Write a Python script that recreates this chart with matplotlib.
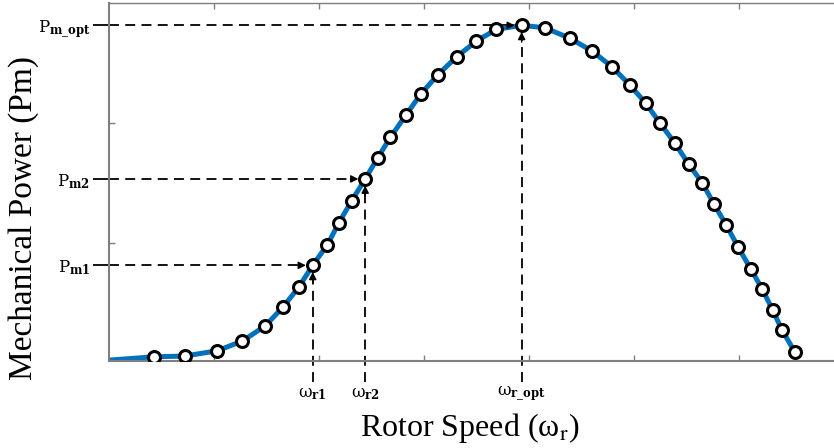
import matplotlib.pyplot as plt

plt.rcParams['mathtext.fontset'] = 'dejavuserif'

# sampled points of the power curve (speed and power in grid units)
speed = [0.43, 0.72, 1.03, 1.27, 1.49, 1.66, 1.81, 1.94, 2.08, 2.19,
         2.31, 2.44, 2.56, 2.68, 2.83, 2.97, 3.13, 3.31, 3.50, 3.69,
         3.93, 4.15, 4.39, 4.60, 4.79, 4.96, 5.11, 5.25, 5.39, 5.52,
         5.65, 5.76, 5.88, 5.99, 6.11, 6.22, 6.32, 6.41, 6.53]
power = [0.048, 0.054, 0.098, 0.179, 0.307, 0.465, 0.632, 0.81, 0.982, 1.165,
         1.346, 1.53, 1.707, 1.877, 2.065, 2.238, 2.396, 2.548, 2.679, 2.777,
         2.81, 2.79, 2.702, 2.596, 2.465, 2.313, 2.163, 1.993, 1.827, 1.654,
         1.498, 1.323, 1.143, 0.965, 0.782, 0.615, 0.438, 0.271, 0.09]

# the curve starts at the origin of the axes
curve_speed = [0.0] + speed
curve_power = [0.02] + power

# operating points marked with dashed guides
op_speed = [1.94, 2.44, 3.93]
op_power = [0.81, 1.53, 2.81]
speed_labels = [r'ω$_{\mathbf{r1}}$', r'ω$_{\mathbf{r2}}$', r'ω$_{\mathbf{r\_opt}}$']
power_labels = [r'$\mathrm{P}_{\mathbf{m1}}$', r'$\mathrm{P}_{\mathbf{m2}}$', r'$\mathrm{P}_{\mathbf{m\_opt}}$']

W, H = 834, 448
fig = plt.figure(figsize=(W / 100, H / 100), dpi=100)
ax = fig.add_axes([109 / W, 87.5 / H, 735 / W, 357 / H])

ax.plot(curve_speed, curve_power, color='#0072BD', lw=3.6, zorder=2)
ax.plot(speed, power, 'o', ms=8.6, mfc='white', mec='black', mew=2.2, zorder=3)

ax.set_xlim(0, 7)
ax.set_ylim(0.017, 2.992)

gray = '#7f7f7f'
for side in ['left', 'bottom', 'top']:
    ax.spines[side].set_color(gray)
    ax.spines[side].set_linewidth(1.5)
ax.spines['top'].set_linewidth(1.0)
ax.spines['right'].set_visible(False)

ax.set_xticks([1, 2, 3, 4, 5, 6])
ax.set_xticklabels([])
ax.tick_params(axis='x', direction='in', length=4, width=1, color=gray,
               top=True, bottom=True)

ax.set_yticks(op_power, power_labels)
ax.set_yticks([1, 2], minor=True)
ax.tick_params(axis='y', which='major', direction='out', length=11.5, width=1.3,
               color='black', labelsize=12, pad=2)
ax.tick_params(axis='y', which='minor', direction='in', length=4, width=1, color=gray)

dash = (0, (5.5, 3.5))
for xs, ys, lab in zip(op_speed, op_power, speed_labels):
    # horizontal guide from the power axis to the point
    ax.plot([0, xs - 0.12], [ys, ys], color='black', lw=1.3, ls=dash, zorder=1)
    ax.annotate('', xy=(xs - 0.065, ys), xytext=(xs - 0.14, ys),
                arrowprops=dict(arrowstyle='-|>', color='black', lw=1.0,
                                mutation_scale=11, shrinkA=0, shrinkB=0))
    # vertical guide from below the speed axis up to the point
    ax.plot([xs, xs], [-0.16, ys - 0.12], color='black', lw=1.3, ls=dash,
            zorder=1, clip_on=False)
    ax.annotate('', xy=(xs, ys - 0.055), xytext=(xs, ys - 0.14),
                arrowprops=dict(arrowstyle='-|>', color='black', lw=1.0,
                                mutation_scale=11, shrinkA=0, shrinkB=0),
                annotation_clip=False)
    ax.text(xs, -0.26, lab, ha='center', va='center', fontsize=12,
            family='DejaVu Serif', clip_on=False)

fig.text(24 / W, 1 - 218 / H, 'Mechanical Power (Pm)', rotation=90,
         ha='center', va='center', fontsize=24, family='Liberation Serif')
fig.text(470 / W, 1 - 428 / H, r'Rotor Speed (ω$_\mathrm{r}$)',
         ha='center', va='center', fontsize=23, family='Liberation Serif',
         math_fontfamily='stix')

fig.savefig('out.png', dpi=100)
